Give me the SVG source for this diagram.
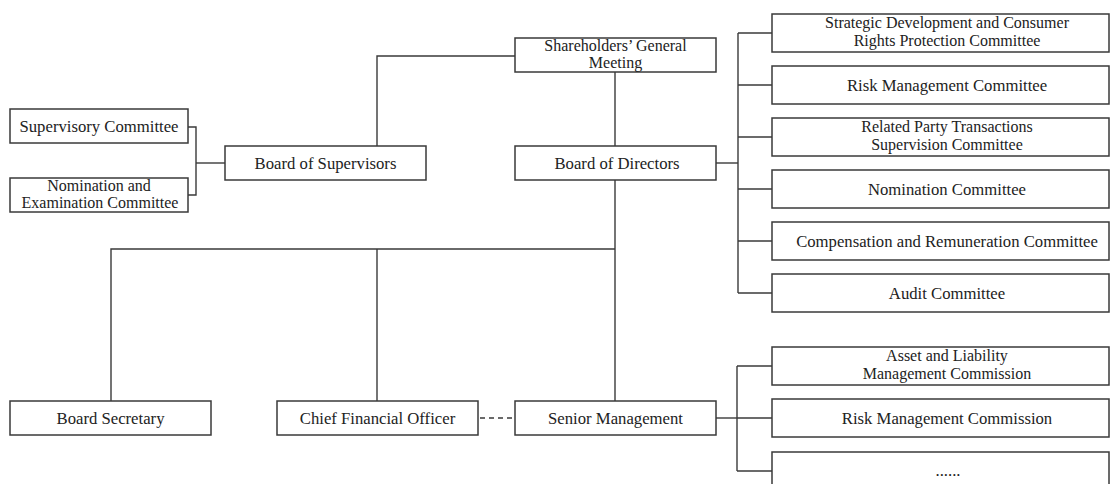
<svg xmlns="http://www.w3.org/2000/svg" width="1110" height="484" viewBox="0 0 1110 484">
<style>
.box{fill:#fff;stroke:#3a3a3a;stroke-width:1.5}
.ln{fill:none;stroke:#3a3a3a;stroke-width:1.4}
.dash{fill:none;stroke:#3a3a3a;stroke-width:1.4;stroke-dasharray:5 4}
text{font-family:"Liberation Serif","Times New Roman",serif;font-size:16.7px;fill:#222;text-anchor:middle}
text.two{font-size:16px}
</style>
<rect width="1110" height="484" fill="#fff"/>
<g id="connectors">
<polyline class="ln" points="188,127 196,127 196,195 188,195"/>
<line class="ln" x1="196" y1="163" x2="225" y2="163"/>
<polyline class="ln" points="515,56 377,56 377,146"/>
<line class="ln" x1="615" y1="72" x2="615" y2="146"/>
<line class="ln" x1="716" y1="163" x2="738" y2="163"/>
<line class="ln" x1="738" y1="33" x2="738" y2="293"/>
<line class="ln" x1="738" y1="33" x2="772" y2="33"/>
<line class="ln" x1="738" y1="85" x2="772" y2="85"/>
<line class="ln" x1="738" y1="137" x2="772" y2="137"/>
<line class="ln" x1="738" y1="189" x2="772" y2="189"/>
<line class="ln" x1="738" y1="241" x2="772" y2="241"/>
<line class="ln" x1="738" y1="293" x2="772" y2="293"/>
<line class="ln" x1="615" y1="180" x2="615" y2="401"/>
<polyline class="ln" points="111,401 111,249 615,249"/>
<line class="ln" x1="377" y1="249" x2="377" y2="401"/>
<line class="dash" x1="480" y1="418" x2="515" y2="418"/>
<line class="ln" x1="716" y1="418" x2="737" y2="418"/>
<line class="ln" x1="737" y1="366" x2="737" y2="471"/>
<line class="ln" x1="737" y1="366" x2="772" y2="366"/>
<line class="ln" x1="737" y1="418" x2="772" y2="418"/>
<line class="ln" x1="737" y1="471" x2="772" y2="471"/>
</g>
<g id="supervisory-committee"><rect class="box" x="10" y="109" width="178" height="34"/><text x="99" y="132">Supervisory Committee</text></g>
<g id="nomination-examination"><rect class="box" x="10" y="178" width="178" height="34"/><text class="two" x="99" y="190.6">Nomination and</text><text class="two" x="100" y="208.4">Examination Committee</text></g>
<g id="board-of-supervisors"><rect class="box" x="225" y="146" width="201" height="34"/><text x="325.5" y="168.5">Board of Supervisors</text></g>
<g id="shareholders"><rect class="box" x="515" y="38" width="201" height="34"/><text class="two" x="615.5" y="50.6">Shareholders’ General</text><text class="two" x="615.5" y="68.4">Meeting</text></g>
<g id="board-of-directors"><rect class="box" x="515" y="146" width="201" height="34"/><text x="617" y="168.5">Board of Directors</text></g>
<g id="strategic"><rect class="box" x="772" y="14" width="337" height="38"/><text class="two" x="947" y="28.3">Strategic Development and Consumer</text><text class="two" x="947" y="46.1">Rights Protection Committee</text></g>
<g id="risk-committee"><rect class="box" x="772" y="66" width="337" height="38"/><text x="947" y="90.5">Risk Management Committee</text></g>
<g id="related-party"><rect class="box" x="772" y="118" width="337" height="38"/><text class="two" x="947" y="132.3">Related Party Transactions</text><text class="two" x="947" y="150.1">Supervision Committee</text></g>
<g id="nomination-committee"><rect class="box" x="772" y="170" width="337" height="38"/><text x="947" y="194.5">Nomination Committee</text></g>
<g id="compensation"><rect class="box" x="772" y="222" width="337" height="38"/><text x="947" y="246.5">Compensation and Remuneration Committee</text></g>
<g id="audit"><rect class="box" x="772" y="274" width="337" height="38"/><text x="947" y="298.5">Audit Committee</text></g>
<g id="board-secretary"><rect class="box" x="10" y="401" width="201" height="34"/><text x="110.5" y="423.5">Board Secretary</text></g>
<g id="cfo"><rect class="box" x="277" y="401" width="201" height="34"/><text x="377.5" y="423.5">Chief Financial Officer</text></g>
<g id="senior-management"><rect class="box" x="515" y="401" width="201" height="34"/><text x="615.5" y="423.5">Senior Management</text></g>
<g id="alm"><rect class="box" x="772" y="347" width="337" height="38"/><text class="two" x="947" y="360.8">Asset and Liability</text><text class="two" x="947" y="378.6">Management Commission</text></g>
<g id="risk-commission"><rect class="box" x="772" y="399" width="337" height="38"/><text x="947" y="423.5">Risk Management Commission</text></g>
<g id="more"><rect class="box" x="772" y="452" width="337" height="38"/><text x="948" y="476">......</text></g>
</svg>
